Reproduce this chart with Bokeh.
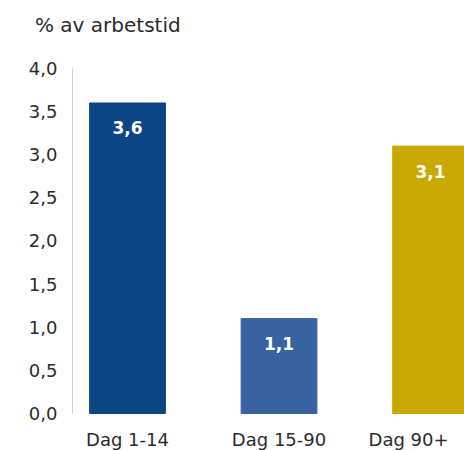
from bokeh.plotting import figure
from bokeh.models import ColumnDataSource, FixedTicker, Div
from bokeh.layouts import column
from bokeh.core.properties import value
from bokeh.embed import file_html
from bokeh.resources import INLINE

title_text = "% av arbetstid"
categories = ["Dag 1-14", "Dag 15-90", "Dag 90+"]
values = [3.6, 1.1, 3.1]
value_labels = ["3,6", "1,1", "3,1"]
colors = ["#0c4585", "#3863a0", "#c9a804"]
y_ticks = [0.0, 0.5, 1.0, 1.5, 2.0, 2.5, 3.0, 3.5, 4.0]

FONT = "DejaVu Sans"
TXT = "#2b2b2b"

xs = list(range(len(categories)))
src = ColumnDataSource(dict(x=xs, top=values, color=colors, lab=value_labels, cat=categories,
                            zero=[0] * len(xs), xoff=[0, 0, -22]))

head = Div(text=title_text, width=464, height=48, margin=(0, 0, 0, 0),
           styles={"font-family": FONT, "font-size": "20px", "color": TXT,
                   "padding-left": "35px", "padding-top": "13px", "line-height": "24px",
                   "white-space": "nowrap"})

p = figure(width=464, height=402, output_backend="svg", toolbar_location=None,
           x_range=(-0.363, 2.224), y_range=(-0.429, 4.0),
           min_border_left=72, min_border_right=0, min_border_top=20, min_border_bottom=0,
           margin=(0, 0, 0, 0))

p.vbar(x="x", top="top", bottom=0, width=0.5, color="color", source=src)

p.xaxis.visible = False
p.xgrid.visible = False
p.ygrid.visible = False
p.outline_line_color = None

ya = p.yaxis[0]
ya.bounds = (0, 4.0)
ya.ticker = FixedTicker(ticks=y_ticks)
ya.major_label_overrides = {t: f"{t:.1f}".replace(".", ",") for t in y_ticks}
ya.major_tick_line_color = None
ya.minor_tick_line_color = None
ya.axis_line_color = "#cfcfcf"
ya.major_label_text_font = FONT
ya.major_label_text_font_size = "18px"
ya.major_label_text_color = TXT
ya.major_label_standoff = 9

p.text(x="x", y="top", text="lab", source=src, text_align="center", text_baseline="middle",
       y_offset=25, text_color="white", text_font=value(FONT), text_font_size="17px",
       text_font_style="bold")

p.text(x="x", y="zero", text="cat", source=src, text_align="center", text_baseline="middle",
       y_offset=26, x_offset="xoff", text_color=TXT, text_font=value(FONT), text_font_size="18px")

layout = column(head, p, spacing=0, margin=(0, 0, 0, 0))
open("out.html", "w").write(file_html(layout, INLINE))
